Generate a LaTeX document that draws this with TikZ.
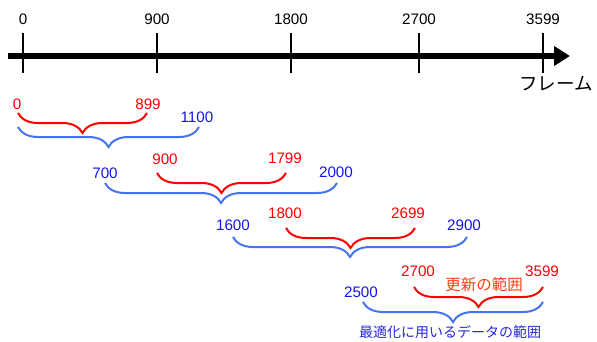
\documentclass[tikz,border=0pt]{standalone}
\usepackage{fontspec}
\setmainfont{Liberation Sans}
\newfontfamily\jp{Noto Sans CJK JP}
\usetikzlibrary{arrows.meta,decorations.pathreplacing}
\definecolor{numred}{RGB}{255,0,0}
\definecolor{numblue}{RGB}{20,20,240}
\definecolor{braceblue}{RGB}{70,115,240}
\definecolor{lblorange}{RGB}{255,60,20}
\definecolor{lblblue}{RGB}{40,40,220}
\tikzset{
  ticklbl/.style={font=\fontsize{15.2}{17}\selectfont, inner sep=0pt, text=black},
  rnum/.style={font=\fontsize{15.2}{17}\selectfont, inner sep=0pt, text=numred},
  bnum/.style={font=\fontsize{15.2}{17}\selectfont, inner sep=0pt, text=numblue},
  tickline/.style={line width=1.5pt, black},
  bracedraw/.style={decorate, decoration={brace, mirror, amplitude=20pt}, line width=2pt},
  redbrace/.style={bracedraw, draw=numred},
  bluebrace/.style={bracedraw, draw=braceblue},
}
\begin{document}
\begin{tikzpicture}[x=1pt,y=-1pt]
\useasboundingbox (0,0) rectangle (597,341);
% axis
\coordinate (axL) at (8,56);
\coordinate (axR) at (570,56);
\draw[line width=6pt, -{Triangle[length=16pt,width=19pt]}] (axL) -- (axR);
% ticks and labels
\foreach \x/\t/\n in {23/0/a,157/900/b,291/1800/c,419/2700/d,543/3599/e}{
  \node[ticklbl] (lbl\n) at (\x,19) {\t};
  \coordinate (tt\n) at (\x,33);
  \coordinate (tb\n) at (\x,73);
  \draw[tickline] (tt\n) -- (tb\n);
}
\node[inner sep=0pt, font=\jp\fontsize{18.5}{20}\selectfont] (frame) at (556,84) {フレーム};
% row 1
\node[rnum] (r1a) at (17,104) {0};
\node[rnum] (r1b) at (148,104) {899};
\node[bnum] (b1b) at (197,117) {1100};
\coordinate (r1s) at (18,113); \coordinate (r1e) at (147,113);
\draw[redbrace] (r1s) -- (r1e);
\coordinate (b1s) at (18,127); \coordinate (b1e) at (199,127);
\draw[bluebrace] (b1s) -- (b1e);
% row 2
\node[bnum] (b2a) at (105,173) {700};
\node[rnum] (r2a) at (165,159) {900};
\node[rnum] (r2b) at (285,158) {1799};
\node[bnum] (b2b) at (336,172) {2000};
\coordinate (r2s) at (157,173); \coordinate (r2e) at (286,173);
\draw[redbrace] (r2s) -- (r2e);
\coordinate (b2s) at (105,183); \coordinate (b2e) at (337,183);
\draw[bluebrace] (b2s) -- (b2e);
% row 3
\node[bnum] (b3a) at (233,225) {1600};
\node[rnum] (r3a) at (285,213) {1800};
\node[rnum] (r3b) at (408,213) {2699};
\node[bnum] (b3b) at (464,225) {2900};
\coordinate (r3s) at (286,228); \coordinate (r3e) at (415,228);
\draw[redbrace] (r3s) -- (r3e);
\coordinate (b3s) at (233,237); \coordinate (b3e) at (467,237);
\draw[bluebrace] (b3s) -- (b3e);
% row 4
\node[rnum] (r4a) at (418,271) {2700};
\node[rnum] (r4b) at (542,271) {3599};
\node[bnum] (b4a) at (361,292) {2500};
\coordinate (r4s) at (414,287); \coordinate (r4e) at (543,287);
\draw[redbrace] (r4s) -- (r4e);
\coordinate (b4s) at (363,302); \coordinate (b4e) at (543,302);
\draw[bluebrace] (b4s) -- (b4e);
\node[inner sep=0pt, text=lblorange, font=\jp\fontsize{15.5}{17}\selectfont] (upd) at (484,285) {更新の範囲};
\node[inner sep=0pt, text=lblblue, font=\jp\fontsize{14}{16}\selectfont] (opt) at (450,332) {最適化に用いるデータの範囲};
\end{tikzpicture}
\end{document}
